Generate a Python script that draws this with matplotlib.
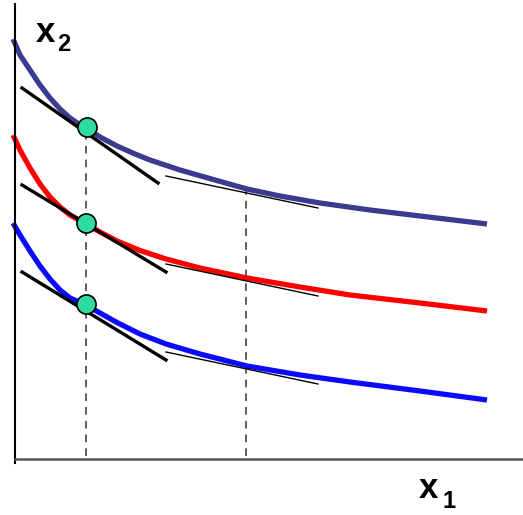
import numpy as np
import matplotlib
matplotlib.use("Agg")
import matplotlib.pyplot as plt

# indifference curves (x1, x2), origin at the axes corner
top_x = [-2, 5, 15, 25, 35, 45, 55, 63, 71, 85, 102, 120, 135, 165, 200, 232, 265, 305, 355, 405, 472]
top_y = [420, 404, 389, 374, 361, 350, 341, 335.5, 331, 322, 313, 305, 299, 289, 279, 270, 263, 256, 249, 243, 235]

mid_x = [-2, 5, 15, 25, 35, 45, 55, 63, 71, 85, 102, 125, 151, 185, 232, 285, 335, 405, 472]
mid_y = [324, 309, 291, 275, 262, 252, 244, 239.5, 235, 227, 218, 208.5, 200, 191, 181, 172, 164, 156, 148]

low_x = [-2, 5, 15, 25, 35, 45, 55, 63, 71, 85, 102, 125, 151, 185, 232, 285, 335, 405, 472]
low_y = [236, 224, 208, 193, 180, 169, 161, 157.5, 154, 146, 136.5, 125, 115, 105, 93, 84, 77, 68, 59]

# tangency points
dot_x = [72, 71, 71]
dot_y = [332, 236, 155]

# budget lines: steep (thick) and flat (thin)
thick_x = [[7, 143], [7, 151], [7, 151]]
thick_y = [[371, 276], [274, 187], [187, 99]]
thin_x = [[151, 303], [151, 303], [151, 303]]
thin_y = [[283, 251], [195, 163], [107, 75]]

# vertical guides
guide_x = [71, 231]
guide_top = [331, 269]

curve_colors = ["#3a3a8e", "#ff0000", "#0a0aff"]

fig = plt.figure(figsize=(5.23, 5.15), dpi=100)
ax = fig.add_axes([15 / 523, 56 / 515, 508 / 523, 455 / 515])
ax.set_xlim(0, 508)
ax.set_ylim(0, 455)

for xs, ys, c in zip([top_x, mid_x, low_x], [top_y, mid_y, low_y], curve_colors):
    ax.plot(xs, ys, color=c, lw=3.8, solid_capstyle="butt", solid_joinstyle="round",
            clip_on=False, zorder=2)

for xs, ys in zip(thick_x, thick_y):
    ax.plot(xs, ys, color="black", lw=2.4, zorder=3)
for xs, ys in zip(thin_x, thin_y):
    ax.plot(xs, ys, color="black", lw=1.0, zorder=3)

for gx, gt in zip(guide_x, guide_top):
    ax.plot([gx, gx], [3, gt], color="#333333", lw=1.1, ls=(0, (5, 4)), zorder=1)

ax.scatter(dot_x, dot_y, s=190, color="#2fdc9f", edgecolor="black", lw=1.2, zorder=5)

for s in ["top", "right"]:
    ax.spines[s].set_visible(False)
ax.spines["left"].set_color("black")
ax.spines["left"].set_linewidth(1.5)
ax.spines["bottom"].set_color("#555555")
ax.spines["bottom"].set_linewidth(1.8)
ax.plot([0, 0], [-4, 0], color="black", lw=1.5, clip_on=False)
ax.set_xticks([])
ax.set_yticks([])

lab = dict(family="Liberation Sans", weight="bold", color="black", va="baseline", ha="left")
ax.text(21, 417, "x", fontsize=25, **lab)
ax.text(42, 408, "2", fontsize=17, **lab)
ax.text(404, -39, "x", fontsize=25, clip_on=False, **lab)
ax.text(427, -49, "1", fontsize=17, clip_on=False, **lab)

fig.savefig("out.png", dpi=100)
